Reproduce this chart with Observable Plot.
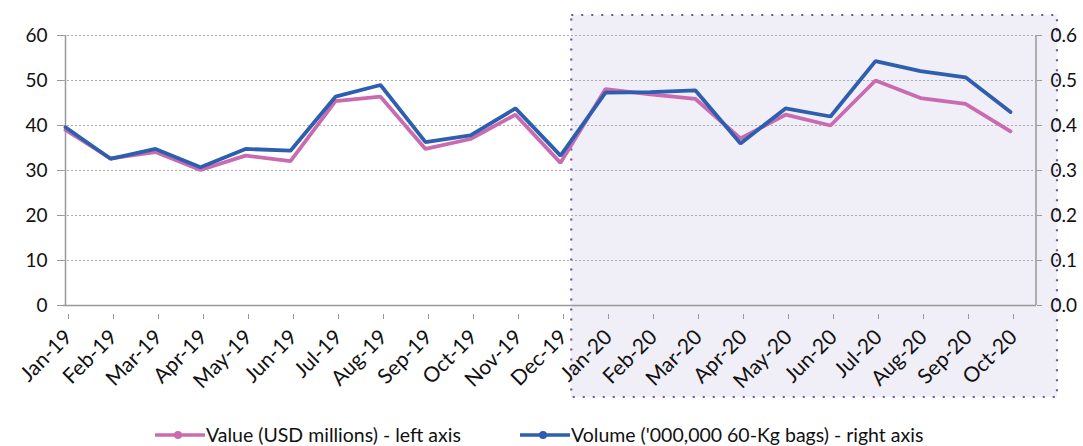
<!DOCTYPE html>
<html>
<head>
<meta charset="utf-8">
<script src="https://cdn.jsdelivr.net/npm/d3@7"></script>
<script src="https://cdn.jsdelivr.net/npm/@observablehq/plot@0.6"></script>
<style>
  body { margin: 0; background: #fff; font-family: Lato, "Open Sans", sans-serif; }
  #legend { position: relative; height: 28px; font-size: 19.5px; color: #111; }
  .item { display: flex; align-items: center; position: absolute; top: 5px; white-space: nowrap; }
  .item svg { margin-right: 1px; }
</style>
</head>
<body>
<div id="chart"></div>
<div id="legend"></div>
<script>
const months = ["Jan-19","Feb-19","Mar-19","Apr-19","May-19","Jun-19","Jul-19","Aug-19","Sep-19","Oct-19","Nov-19","Dec-19",
                "Jan-20","Feb-20","Mar-20","Apr-20","May-20","Jun-20","Jul-20","Aug-20","Sep-20","Oct-20"];
const valueUSD = [39.0, 32.7, 34.1, 30.1, 33.3, 32.1, 45.4, 46.4, 34.8, 37.0, 42.4, 31.7,
                  48.1, 46.9, 45.9, 37.1, 42.4, 40.0, 50.0, 46.1, 44.8, 38.7];
const volumeBags = [0.396, 0.326, 0.348, 0.307, 0.348, 0.344, 0.464, 0.490, 0.363, 0.378, 0.438, 0.333,
                    0.473, 0.474, 0.478, 0.360, 0.438, 0.420, 0.543, 0.521, 0.507, 0.430];
const leftTicks = [0, 10, 20, 30, 40, 50, 60];
const rightTicks = [0, 0.1, 0.2, 0.3, 0.4, 0.5, 0.6];
const seriesNames = ["Value (USD millions) - left axis", "Volume ('000,000 60-Kg bags) - right axis"];
const colors = ["#c96bb0", "#2d5fae"];
const highlightFrom = "Jan-20";

const rightScale = 60 / 0.6;
const valueData = months.map((m, i) => ({month: m, v: valueUSD[i]}));
const volumeData = months.map((m, i) => ({month: m, v: volumeBags[i] * rightScale}));

const W = 1083, H = 418;
const mL = 63, mR = 47, mT = 35, mB = 113;

const chart = Plot.plot({
  width: W, height: H,
  marginLeft: mL, marginRight: mR, marginTop: mT, marginBottom: mB,
  style: {fontFamily: "Lato, 'Open Sans', sans-serif", fontSize: "19px", color: "#111", background: "transparent"},
  x: {type: "point", domain: months, range: [mL, 1012], padding: 0},
  y: {domain: [0, 60], range: [H - mB, mT]},
  marks: [
    // highlighted period box (behind everything)
    (index, scales, values, dims) => {
      const x = scales.x;
      const i = months.indexOf(highlightFrom);
      const step = x(months[i]) - x(months[i - 1]);
      const x0 = x(months[i - 1]) + step * 0.25;
      const x1 = dims.width - dims.marginRight + 21;
      const y0 = dims.marginTop - 20;
      const y1 = dims.height - dims.marginBottom + 92;
      const g = d3.create("svg:g");
      g.append("rect").attr("x", x0).attr("y", y0).attr("width", x1 - x0).attr("height", y1 - y0)
        .attr("fill", "#f0eef6").attr("stroke", "#7050b0").attr("stroke-width", 2.2)
        .attr("stroke-dasharray", "2,8");
      return g.node();
    },
    Plot.gridY(rightTicks.slice(1).map(d => d * rightScale), {stroke: "#aaa", strokeOpacity: 1, strokeDasharray: "2,2"}),
    Plot.ruleY([0], {stroke: "#999", strokeWidth: 1.5}),
    Plot.ruleX([months[0]], {stroke: "#999", strokeWidth: 1.5}),
    // right axis line
    (index, scales, values, dims) => {
      const xr = dims.width - dims.marginRight;
      return d3.create("svg:line").attr("x1", xr).attr("x2", xr)
        .attr("y1", dims.marginTop).attr("y2", dims.height - dims.marginBottom)
        .attr("stroke", "#999").attr("stroke-width", 1.5).node();
    },
    Plot.axisY(leftTicks, {anchor: "left", tickSize: 6, tickPadding: 10, stroke: "#999", label: null, fontSize: 19}),
    Plot.axisY(rightTicks.map(d => d * rightScale), {anchor: "right", tickSize: 5, tickPadding: 9, stroke: "#999", label: null, fontSize: 19,
      tickFormat: d => (d / rightScale).toFixed(1)}),
    Plot.axisX(months, {anchor: "bottom", tickSize: 5, tickPadding: 14, tickRotate: -45, stroke: "#999", label: null, fontSize: 21, dx: 3, dy: 9}),
    Plot.line(valueData, {x: "month", y: "v", stroke: colors[0], strokeWidth: 3.8, strokeLinejoin: "miter"}),
    Plot.line(volumeData, {x: "month", y: "v", stroke: colors[1], strokeWidth: 3.8, strokeLinejoin: "miter"})
  ]
});
document.getElementById("chart").append(chart);

const legend = document.getElementById("legend");
const positions = [155, 520];
seriesNames.forEach((name, i) => {
  const item = document.createElement("div");
  item.className = "item";
  item.style.left = positions[i] + "px";
  item.innerHTML = `<svg width="50" height="12"><line x1="0" x2="50" y1="6" y2="6" stroke="${colors[i]}" stroke-width="3.5"/><circle cx="23" cy="6" r="4" fill="${colors[i]}"/></svg><span>${name}</span>`;
  legend.append(item);
});
</script>
</body>
</html>
